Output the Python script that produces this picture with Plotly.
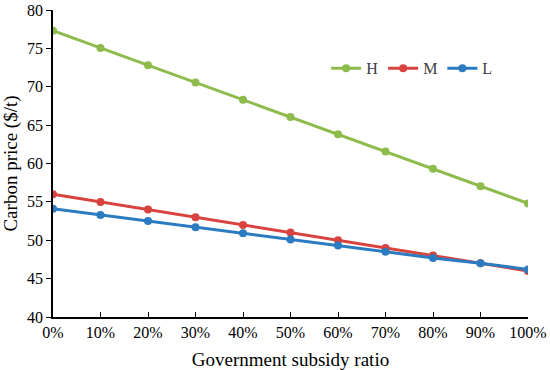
import plotly.graph_objects as go

categories = ["0%", "10%", "20%", "30%", "40%", "50%", "60%", "70%", "80%", "90%", "100%"]
H = [77.3, 75.05, 72.8, 70.55, 68.3, 66.05, 63.8, 61.55, 59.3, 57.05, 54.8]
M = [56.0, 55.0, 54.0, 53.0, 52.0, 51.0, 50.0, 49.0, 48.0, 47.0, 46.0]
L = [54.1, 53.3, 52.5, 51.7, 50.9, 50.1, 49.3, 48.5, 47.7, 47.0, 46.2]

series = [("H", H, "#8DBB4C"), ("M", M, "#D9433F"), ("L", L, "#2B7BC0")]

fig = go.Figure()
for name, vals, col in series:
    fig.add_trace(go.Scatter(x=categories, y=vals, name=name, mode="lines+markers",
                             line=dict(color=col, width=3),
                             marker=dict(color=col, size=8)))

font = dict(family="Liberation Serif, Times New Roman, serif", size=16, color="#000000")
fig.update_layout(
    width=550, height=370,
    margin=dict(l=53, r=22, t=10, b=53, autoexpand=False),
    paper_bgcolor="white", plot_bgcolor="white",
    font=font,
    showlegend=True,
    legend=dict(orientation="h", x=0.575, y=0.81, xanchor="left", yanchor="middle",
                bgcolor="rgba(0,0,0,0)", font=dict(size=16, color="#404040"),
                itemwidth=30, tracegroupgap=0),
)
fig.update_xaxes(
    type="category", range=[0, 10], automargin=False,
    showline=True, linecolor="black", linewidth=1.5,
    ticks="inside", ticklen=5, tickcolor="black",
    showgrid=False, zeroline=False,
    title=dict(text="Government subsidy ratio"),
)
fig.update_yaxes(
    range=[40, 80], dtick=5, automargin=False,
    showline=True, linecolor="black", linewidth=1.5,
    ticks="outside", ticklen=5, tickcolor="black",
    showgrid=False, zeroline=False,
    title=dict(text="Carbon price ($/t)"),
)
fig.write_html("out.html", config={"displayModeBar": False},
               post_script="document.body.style.margin='0';")
